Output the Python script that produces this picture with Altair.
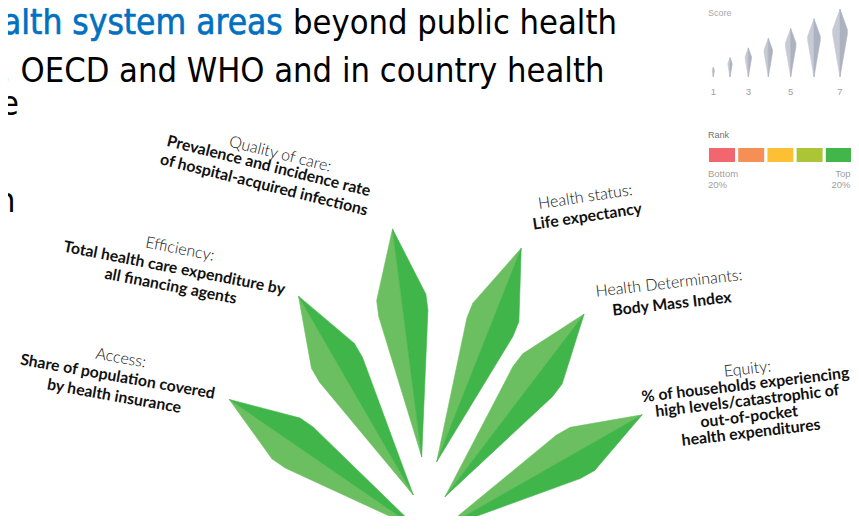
import altair as alt
import numpy as np
import pandas as pd

# ---------------- data ----------------
areas = ["Access", "Efficiency", "Quality of care", "Health status",
         "Health Determinants", "Equity"]
headers = ["Access:", "Efficiency:", "Quality of care:", "Health status:",
           "Health Determinants:", "Equity:"]
indicators = [
    ["Share of population covered", "by health insurance"],
    ["Total health care expenditure by", "all financing agents"],
    ["Prevalence and incidence rate", "of hospital-acquired infections"],
    ["Life expectancy"],
    ["Body Mass Index"],
    ["% of households experiencing", "high levels/catastrophic of",
     "out-of-pocket", "health expenditures"],
]
scores = [7, 7, 7, 7, 7, 7]
ranks = [5, 5, 5, 5, 5, 5]          # quintile, 5 = top 20%

legend_scores = [1, 2, 3, 4, 5, 6, 7]
legend_tick_labels = ["1", "", "3", "", "5", "", "7"]
rank_quintiles = [1, 2, 3, 4, 5]
rank_colors = ["#f2676f", "#f58f56", "#fdbf33", "#abc536", "#40b64b"]
rank_edge_top = ["Bottom", "", "", "", "Top"]
rank_edge_bottom = ["20%", "", "", "", "20%"]

title_blue = "alth system areas"
title_rest = ["beyond public health", ", OECD and WHO and in country health", "e"]
title_frag = "n"

# ---------------- layout ----------------
OFF = 8
W, H = 843, 508
leaf_base_x = [418.5, 413.3, 421.7, 436.7, 445.0, 442.8]
leaf_base_y = [529.5, 495.0, 456.7, 461.7, 496.7, 528.5]
leaf_angle = [-55.5, -30.0, -7.3, 21.6, 37.3, 60.3]
leaf_px_per_score = 32.8
half_width_ratio = 0.108
wide_from, wide_to = 0.63, 0.70
leaf_tones = {5: ("#6cbf60", "#40b54a")}
legend_x = [713.3, 730.0, 748.3, 768.3, 790.7, 814.0, 840.0]
legend_base_y = 77
legend_px_per_score = 9.7
legend_tones = ("#c6cad4", "#adb2c0")

label_angle = [10, 11, 14, -8.5, -6.5, -6.7]
header_xy = [(120, 363), (179, 254), (279, 159), (586, 202), (669.5, 288.3), (748, 374)]
body_xy = [(116.7, 381.7), (173.3, 273), (267.5, 171), (588, 221.6), (672.5, 309), (746, 390)]
body_lh = [19.7, 18.5, 19.4, 20, 20, 16]
header_size = 16
body_size = 15.8

rank_x0, rank_w, rank_step, rank_y0, rank_y1 = 709, 26, 29.2, 148, 162


def kite(bx, by, ang, length, light, dark):
    a = np.radians(ang)
    u = np.array([np.sin(a), -np.cos(a)])
    left = np.array([u[1], -u[0]])
    b = np.array([bx, by])
    t = b + length * u
    w = half_width_ratio * length
    w1 = b + wide_from * length * u
    w2 = b + wide_to * length * u
    out = []
    for sgn, col in ((1, light), (-1, dark)):
        ring = [b, w1 + sgn * w * left, w2 + sgn * w * left, t, b]
        out.append({"type": "Feature", "properties": {"fill": col},
                    "geometry": {"type": "Polygon",
                                 "coordinates": [[[float(p[0]), float(p[1])] for p in ring]]}})
    return out


features = []
for i in range(len(areas)):
    lt, dk = leaf_tones[ranks[i]]
    features += kite(leaf_base_x[i], leaf_base_y[i], leaf_angle[i],
                     scores[i] * leaf_px_per_score, lt, dk)
for i, s in enumerate(legend_scores):
    features += kite(legend_x[i], legend_base_y, 0, s * legend_px_per_score, *legend_tones)

xs = alt.Scale(domain=[OFF, OFF + W], nice=False, zero=False)
ys = alt.Scale(domain=[OFF, OFF + H], nice=False, zero=False, reverse=True)


def X(f):
    return alt.X(f, type="quantitative", scale=xs, axis=None)


def Y(f):
    return alt.Y(f, type="quantitative", scale=ys, axis=None)


shapes = alt.Chart(alt.Data(values=features)).mark_geoshape(strokeWidth=0.6).encode(
    fill=alt.Fill("properties.fill:N", scale=None),
    stroke=alt.Stroke("properties.fill:N", scale=None),
).project(type="identity", scale=1, translate=[-OFF, -OFF])

hdr_df = pd.DataFrame({"x": [p[0] for p in header_xy], "y": [p[1] for p in header_xy],
                       "text": headers, "angle": [a % 360 for a in label_angle]})
rows = []
for i, lines in enumerate(indicators):
    a = np.radians(label_angle[i])
    for k, line in enumerate(lines):
        rows.append({"x": body_xy[i][0] - k * body_lh[i] * np.sin(a),
                     "y": body_xy[i][1] + k * body_lh[i] * np.cos(a),
                     "text": line, "angle": label_angle[i] % 360})
body_df = pd.DataFrame(rows)

headers_layer = alt.Chart(hdr_df).mark_text(
    font="Lato", fontWeight=300, fontSize=header_size, color="#111111",
    align="center", baseline="alphabetic"
).encode(x=X("x"), y=Y("y"), text="text:N", angle=alt.Angle("angle:Q", scale=None))

body_layer = alt.Chart(body_df).mark_text(
    font="Lato", fontWeight="bold", fontSize=body_size, color="#111111",
    align="center", baseline="alphabetic"
).encode(x=X("x"), y=Y("y"), text="text:N", angle=alt.Angle("angle:Q", scale=None))

title_font = "DejaVu Sans Condensed, Liberation Sans Narrow, DejaVu Sans"
blue_df = pd.DataFrame({"x": [2], "y": [34], "text": [title_blue]})
blue_layer = alt.Chart(blue_df).mark_text(
    font=title_font, fontSize=35, color="#0070c0", stroke="#0070c0", strokeWidth=0.6,
    align="left", baseline="alphabetic"
).encode(x=X("x"), y=Y("y"), text="text:N")
rest_df = pd.DataFrame({"x": [293, 1, 0], "y": [34, 82, 115], "text": title_rest})
rest_layer = alt.Chart(rest_df).mark_text(
    font=title_font, fontSize=34.2, color="#000000", align="left", baseline="alphabetic"
).encode(x=X("x"), y=Y("y"), text="text:N")
frag_df = pd.DataFrame({"x": [15.5], "y": [212], "text": [title_frag]})
frag_layer = alt.Chart(frag_df).mark_text(
    font=title_font, fontSize=34.2, color="#000000", align="right", baseline="alphabetic"
).encode(x=X("x"), y=Y("y"), text="text:N")

# legend texts
score_df = pd.DataFrame({"x": legend_x, "y": [95] * 7, "text": legend_tick_labels})
score_ticks = alt.Chart(score_df).mark_text(
    font="Liberation Sans", fontSize=9.5, color="#a0a0a0", align="center", baseline="alphabetic"
).encode(x=X("x"), y=Y("y"), text="text:N")
leg_titles_df = pd.DataFrame({"x": [708, 708], "y": [16, 138], "text": ["Score", "Rank"],
                              "c": ["#a8a8a8", "#707070"]})
leg_titles = alt.Chart(leg_titles_df).mark_text(
    font="Liberation Sans", fontSize=9, align="left", baseline="alphabetic"
).encode(x=X("x"), y=Y("y"), text="text:N", color=alt.Color("c:N", scale=None))

rank_df = pd.DataFrame({
    "x0": [rank_x0 + i * rank_step for i in range(5)],
    "x1": [rank_x0 + i * rank_step + rank_w for i in range(5)],
    "y0": [rank_y0] * 5, "y1": [rank_y1] * 5,
    "color": rank_colors, "q": rank_quintiles})
rank_boxes = alt.Chart(rank_df).mark_rect().encode(
    x=X("x0"), x2="x1", y=Y("y0"), y2="y1", color=alt.Color("color:N", scale=None))

edge_rows = []
for i in range(5):
    if rank_edge_top[i]:
        xpos = rank_x0 - 1 if i == 0 else min(rank_x0 + i * rank_step + rank_w, OFF + W - 0.5)
        al = "left" if i == 0 else "right"
        edge_rows.append({"x": xpos, "y": 177, "text": rank_edge_top[i], "al": al})
        edge_rows.append({"x": xpos, "y": 187.5, "text": rank_edge_bottom[i], "al": al})
edge_df = pd.DataFrame(edge_rows)
edge_left = alt.Chart(edge_df[edge_df.al == "left"]).mark_text(
    font="Liberation Sans", fontSize=9.5, color="#a0a0a0", align="left", baseline="alphabetic"
).encode(x=X("x"), y=Y("y"), text="text:N")
edge_right = alt.Chart(edge_df[edge_df.al == "right"]).mark_text(
    font="Liberation Sans", fontSize=9.5, color="#a0a0a0", align="right", baseline="alphabetic"
).encode(x=X("x"), y=Y("y"), text="text:N")

chart = alt.layer(
    shapes, headers_layer, body_layer, blue_layer, rest_layer, frag_layer,
    score_ticks, leg_titles, rank_boxes, edge_left, edge_right
).properties(
    width=W, height=H, autosize="none", padding=0, background="white"
).configure_view(stroke=None)

chart.save("out.html", embed_options={"renderer": "svg", "actions": False})
